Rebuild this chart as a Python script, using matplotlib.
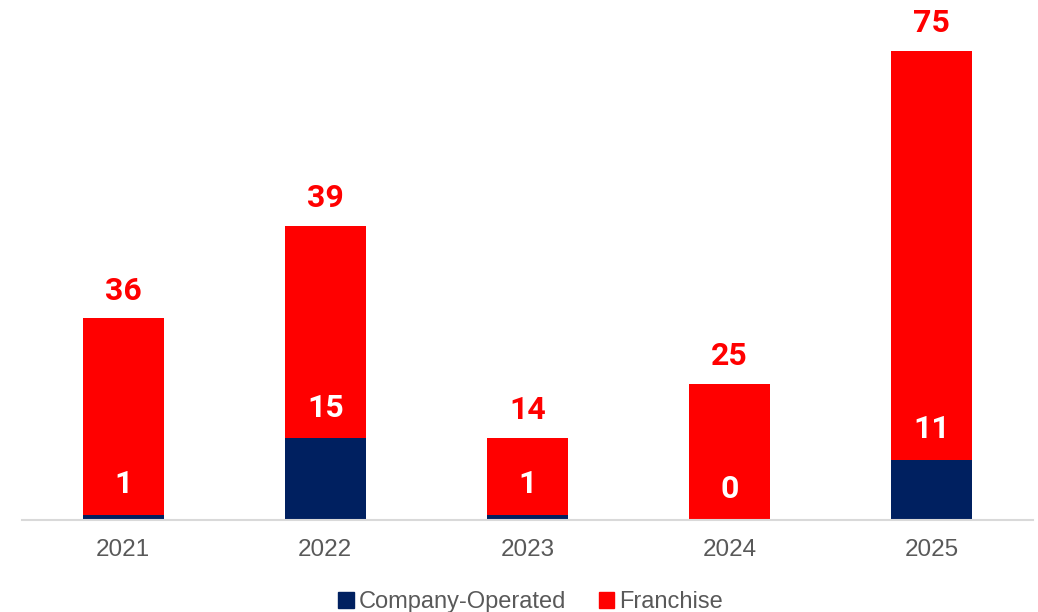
import matplotlib
matplotlib.use("Agg")
import matplotlib.pyplot as plt
from matplotlib.patches import Patch

years = ["2021", "2022", "2023", "2024", "2025"]
company = [1, 15, 1, 0, 11]
franchise = [36, 39, 14, 25, 75]

navy = "#002060"
red = "#FF0000"
gray = "#595959"

fig = plt.figure(figsize=(10.38, 6.12), dpi=100)
ax = fig.add_axes([22/1038, 92/612, 1011/1038, 520/612])

x = list(range(len(years)))
w = 0.40
ax.bar(x, company, width=w, color=navy, label="Company-Operated")
ax.bar(x, franchise, width=w, bottom=company, color=red, label="Franchise")

for xi, c, f in zip(x, company, franchise):
    ax.annotate(str(f), (xi, c + f), xytext=(0, 20), textcoords="offset points",
                ha="center", va="center", color=red, fontsize=23,
                fontweight="bold", family="Roboto")
    ax.annotate(str(c), (xi, c), xytext=(0, 22), textcoords="offset points",
                ha="center", va="center", color="white", fontsize=23,
                fontweight="bold", family="Roboto")

ax.set_xlim(-0.5, len(years) - 0.5)
ax.set_ylim(0, 95.4)
ax.set_xticks(x)
ax.set_xticklabels(years, fontsize=17.5, color=gray, family="Liberation Sans")
ax.tick_params(axis="x", length=0, pad=14)
ax.set_yticks([])
for s in ["top", "right", "left"]:
    ax.spines[s].set_visible(False)
ax.spines["bottom"].set_color("#D9D9D9")
ax.spines["bottom"].set_linewidth(1.5)

handles = [Patch(color=navy, label="Company-Operated"), Patch(color=red, label="Franchise")]
leg = fig.legend(handles=handles, loc="lower center", bbox_to_anchor=(0.511, -0.037),
                 ncol=2, frameon=False, handlelength=0.65, handleheight=0.65,
                 handletextpad=0.2, columnspacing=1.4,
                 prop={"family": "Liberation Sans", "size": 17})
for t in leg.get_texts():
    t.set_color(gray)

fig.savefig("out.png", dpi=100)
